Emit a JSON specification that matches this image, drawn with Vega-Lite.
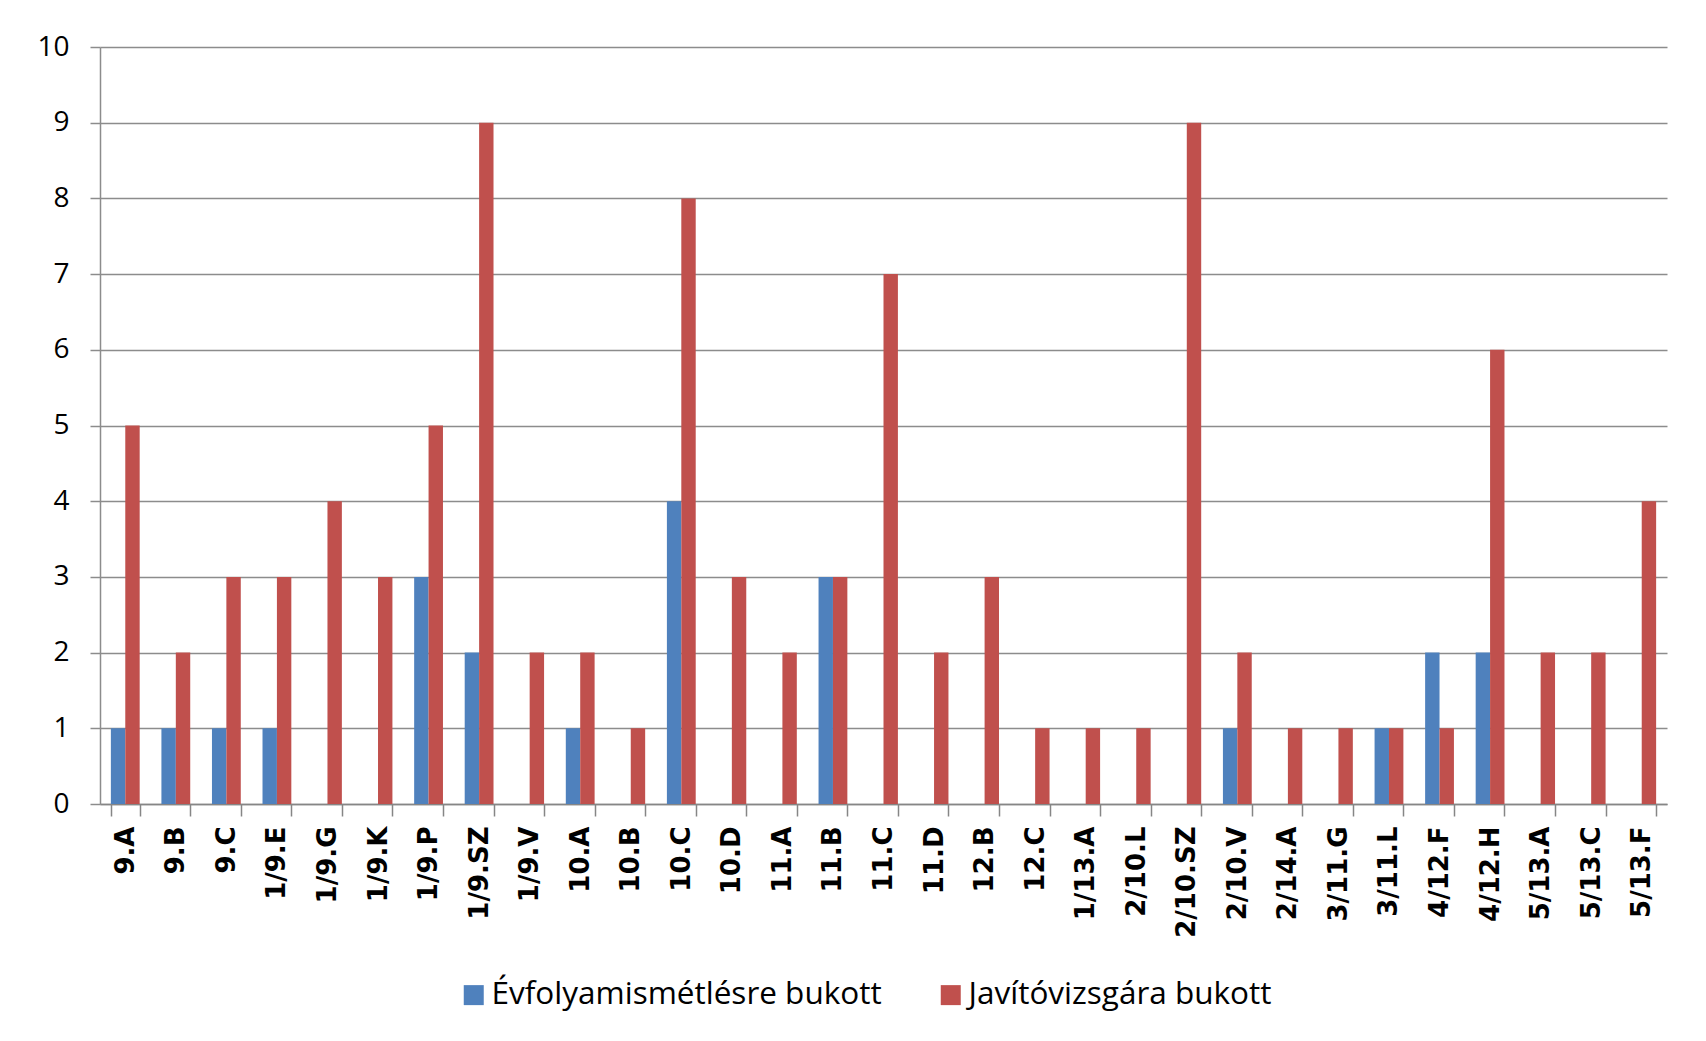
{
  "$schema": "https://vega.github.io/schema/vega-lite/v6.json",
  "width": 1567,
  "height": 757,
  "autosize": {"type": "none"},
  "padding": {"left": 100, "top": 47, "right": 39, "bottom": 237},
  "background": "white",
  "data": {"values": [
    {"osztaly": "9.A", "sorozat": "Évfolyamismétlésre bukott", "db": 1},
    {"osztaly": "9.A", "sorozat": "Javítóvizsgára bukott", "db": 5},
    {"osztaly": "9.B", "sorozat": "Évfolyamismétlésre bukott", "db": 1},
    {"osztaly": "9.B", "sorozat": "Javítóvizsgára bukott", "db": 2},
    {"osztaly": "9.C", "sorozat": "Évfolyamismétlésre bukott", "db": 1},
    {"osztaly": "9.C", "sorozat": "Javítóvizsgára bukott", "db": 3},
    {"osztaly": "1/9.E", "sorozat": "Évfolyamismétlésre bukott", "db": 1},
    {"osztaly": "1/9.E", "sorozat": "Javítóvizsgára bukott", "db": 3},
    {"osztaly": "1/9.G", "sorozat": "Évfolyamismétlésre bukott", "db": 0},
    {"osztaly": "1/9.G", "sorozat": "Javítóvizsgára bukott", "db": 4},
    {"osztaly": "1/9.K", "sorozat": "Évfolyamismétlésre bukott", "db": 0},
    {"osztaly": "1/9.K", "sorozat": "Javítóvizsgára bukott", "db": 3},
    {"osztaly": "1/9.P", "sorozat": "Évfolyamismétlésre bukott", "db": 3},
    {"osztaly": "1/9.P", "sorozat": "Javítóvizsgára bukott", "db": 5},
    {"osztaly": "1/9.SZ", "sorozat": "Évfolyamismétlésre bukott", "db": 2},
    {"osztaly": "1/9.SZ", "sorozat": "Javítóvizsgára bukott", "db": 9},
    {"osztaly": "1/9.V", "sorozat": "Évfolyamismétlésre bukott", "db": 0},
    {"osztaly": "1/9.V", "sorozat": "Javítóvizsgára bukott", "db": 2},
    {"osztaly": "10.A", "sorozat": "Évfolyamismétlésre bukott", "db": 1},
    {"osztaly": "10.A", "sorozat": "Javítóvizsgára bukott", "db": 2},
    {"osztaly": "10.B", "sorozat": "Évfolyamismétlésre bukott", "db": 0},
    {"osztaly": "10.B", "sorozat": "Javítóvizsgára bukott", "db": 1},
    {"osztaly": "10.C", "sorozat": "Évfolyamismétlésre bukott", "db": 4},
    {"osztaly": "10.C", "sorozat": "Javítóvizsgára bukott", "db": 8},
    {"osztaly": "10.D", "sorozat": "Évfolyamismétlésre bukott", "db": 0},
    {"osztaly": "10.D", "sorozat": "Javítóvizsgára bukott", "db": 3},
    {"osztaly": "11.A", "sorozat": "Évfolyamismétlésre bukott", "db": 0},
    {"osztaly": "11.A", "sorozat": "Javítóvizsgára bukott", "db": 2},
    {"osztaly": "11.B", "sorozat": "Évfolyamismétlésre bukott", "db": 3},
    {"osztaly": "11.B", "sorozat": "Javítóvizsgára bukott", "db": 3},
    {"osztaly": "11.C", "sorozat": "Évfolyamismétlésre bukott", "db": 0},
    {"osztaly": "11.C", "sorozat": "Javítóvizsgára bukott", "db": 7},
    {"osztaly": "11.D", "sorozat": "Évfolyamismétlésre bukott", "db": 0},
    {"osztaly": "11.D", "sorozat": "Javítóvizsgára bukott", "db": 2},
    {"osztaly": "12.B", "sorozat": "Évfolyamismétlésre bukott", "db": 0},
    {"osztaly": "12.B", "sorozat": "Javítóvizsgára bukott", "db": 3},
    {"osztaly": "12.C", "sorozat": "Évfolyamismétlésre bukott", "db": 0},
    {"osztaly": "12.C", "sorozat": "Javítóvizsgára bukott", "db": 1},
    {"osztaly": "1/13.A", "sorozat": "Évfolyamismétlésre bukott", "db": 0},
    {"osztaly": "1/13.A", "sorozat": "Javítóvizsgára bukott", "db": 1},
    {"osztaly": "2/10.L", "sorozat": "Évfolyamismétlésre bukott", "db": 0},
    {"osztaly": "2/10.L", "sorozat": "Javítóvizsgára bukott", "db": 1},
    {"osztaly": "2/10.SZ", "sorozat": "Évfolyamismétlésre bukott", "db": 0},
    {"osztaly": "2/10.SZ", "sorozat": "Javítóvizsgára bukott", "db": 9},
    {"osztaly": "2/10.V", "sorozat": "Évfolyamismétlésre bukott", "db": 1},
    {"osztaly": "2/10.V", "sorozat": "Javítóvizsgára bukott", "db": 2},
    {"osztaly": "2/14.A", "sorozat": "Évfolyamismétlésre bukott", "db": 0},
    {"osztaly": "2/14.A", "sorozat": "Javítóvizsgára bukott", "db": 1},
    {"osztaly": "3/11.G", "sorozat": "Évfolyamismétlésre bukott", "db": 0},
    {"osztaly": "3/11.G", "sorozat": "Javítóvizsgára bukott", "db": 1},
    {"osztaly": "3/11.L", "sorozat": "Évfolyamismétlésre bukott", "db": 1},
    {"osztaly": "3/11.L", "sorozat": "Javítóvizsgára bukott", "db": 1},
    {"osztaly": "4/12.F", "sorozat": "Évfolyamismétlésre bukott", "db": 2},
    {"osztaly": "4/12.F", "sorozat": "Javítóvizsgára bukott", "db": 1},
    {"osztaly": "4/12.H", "sorozat": "Évfolyamismétlésre bukott", "db": 2},
    {"osztaly": "4/12.H", "sorozat": "Javítóvizsgára bukott", "db": 6},
    {"osztaly": "5/13.A", "sorozat": "Évfolyamismétlésre bukott", "db": 0},
    {"osztaly": "5/13.A", "sorozat": "Javítóvizsgára bukott", "db": 2},
    {"osztaly": "5/13.C", "sorozat": "Évfolyamismétlésre bukott", "db": 0},
    {"osztaly": "5/13.C", "sorozat": "Javítóvizsgára bukott", "db": 2},
    {"osztaly": "5/13.F", "sorozat": "Évfolyamismétlésre bukott", "db": 0},
    {"osztaly": "5/13.F", "sorozat": "Javítóvizsgára bukott", "db": 4}
  ]},
  "mark": {"type": "bar"},
  "encoding": {
    "x": {
      "field": "osztaly", "type": "nominal", "sort": null,
      "scale": {"paddingInner": 0.43, "paddingOuter": 0.215},
      "axis": {
        "title": null, "labelAngle": -90, "labelAlign": "right", "labelBaseline": "middle",
        "labelFont": "DejaVu Sans", "labelFontWeight": "bold", "labelFontSize": 26, "labelColor": "#000000",
        "tickBand": "extent", "tickSize": 12, "tickColor": "#868686", "tickWidth": 1.5,
        "domainColor": "#868686", "domainWidth": 1.5, "labelPadding": 10, "grid": false
      }
    },
    "xOffset": {"field": "sorozat", "type": "nominal", "sort": ["Évfolyamismétlésre bukott", "Javítóvizsgára bukott"]},
    "y": {
      "field": "db", "type": "quantitative",
      "scale": {"domain": [0, 10], "nice": false},
      "axis": {
        "title": null, "values": [0, 1, 2, 3, 4, 5, 6, 7, 8, 9, 10], "grid": true,
        "gridColor": "#8c8c8c", "gridWidth": 1.5, "tickSize": 10, "tickColor": "#8c8c8c", "tickWidth": 1.5,
        "domainColor": "#8c8c8c", "domainWidth": 1.5,
        "labelFont": "Open Sans", "labelFontSize": 28, "labelColor": "#000000", "labelPadding": 21
      }
    },
    "color": {
      "field": "sorozat", "type": "nominal",
      "scale": {"domain": ["Évfolyamismétlésre bukott", "Javítóvizsgára bukott"], "range": ["#4F81BD", "#C0504D"]},
      "legend": {
        "orient": "none", "legendX": 358, "legendY": 932, "direction": "horizontal", "title": null,
        "symbolType": "square", "symbolSize": 400, "symbolStrokeWidth": 0, "symbolOpacity": 1,
        "labelFont": "Open Sans", "labelFontSize": 31.5, "labelColor": "#000000", "labelOffset": 2,
        "columnPadding": 53, "padding": 0, "labelLimit": 600
      }
    }
  },
  "config": {"view": {"stroke": null}}
}
